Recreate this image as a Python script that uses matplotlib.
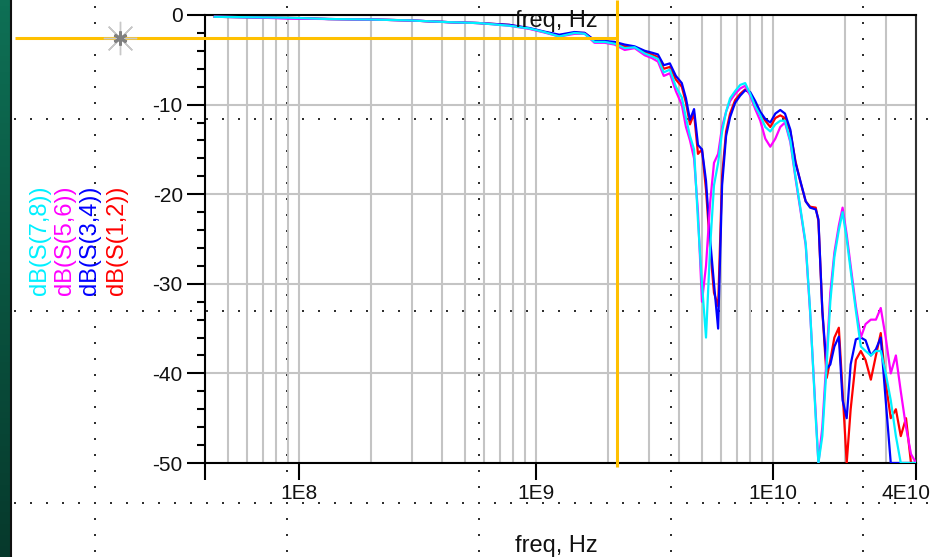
import numpy as np
import matplotlib
matplotlib.use("Agg")
import matplotlib.pyplot as plt
import matplotlib.transforms as mtransforms
from matplotlib.ticker import FixedLocator, LogLocator, MultipleLocator, NullFormatter
from matplotlib.colors import LinearSegmentedColormap

plt.rcParams['font.family'] = ['Liberation Sans', 'DejaVu Sans']

# ---------------- data ----------------
freq_ghz = [0.044, 0.061, 0.090, 0.133, 0.196, 0.290, 0.428, 0.573, 0.769, 0.934,
            1.08, 1.25, 1.45, 1.60, 1.76, 1.94, 2.14, 2.36, 2.60, 2.87,
            3.07, 3.26, 3.45, 3.66, 3.88, 4.11, 4.28, 4.45, 4.63, 4.81,
            5.00, 5.20, 5.41, 5.62, 5.85, 6.08, 6.32, 6.57, 6.90, 7.25,
            7.61, 7.99, 8.39, 8.81, 9.25, 9.71, 10.2, 10.7, 11.2, 11.8,
            12.4, 13.0, 13.7, 14.3, 15.1, 15.5, 16.1, 16.8, 17.4, 18.1,
            18.9, 19.6, 20.4, 21.2, 22.3, 23.4, 24.5, 25.8, 27.1, 28.4,
            29.8, 31.3, 32.9, 34.5, 36.3, 38.1, 40.0]

s12_db = [-0.2, -0.25, -0.3, -0.45, -0.5, -0.6, -0.8, -0.9, -1.1, -1.5,
          -1.9, -2.3, -2.0, -2.0, -2.9, -3.0, -3.1, -3.5, -3.6, -4.1,
          -4.4, -4.7, -6.0, -5.8, -7.2, -8.0, -9.8, -12.2, -11.0, -15.5,
          -15.0, -19.5, -26.0, -31.0, -32.5, -18.0, -13.0, -11.0, -9.5, -8.8,
          -8.3, -8.8, -10.0, -11.0, -11.8, -12.5, -11.5, -11.2, -11.5, -13.0,
          -16.3, -18.6, -20.8, -21.4, -21.5, -23.0, -33.0, -40.5, -38.5, -36.0,
          -34.9, -42.0, -50.0, -44.0, -38.5, -37.5, -38.5, -40.7, -38.0, -35.5,
          -41.0, -45.0, -44.0, -47.0, -45.0, -50.0, -50.0]

s34_db = [-0.2, -0.25, -0.35, -0.45, -0.5, -0.6, -0.8, -0.9, -1.1, -1.45,
          -1.85, -2.2, -1.9, -2.0, -2.8, -2.9, -3.0, -3.3, -3.5, -4.0,
          -4.2, -4.4, -5.6, -5.4, -6.8, -7.6, -9.3, -11.7, -10.5, -14.5,
          -15.0, -18.5, -25.0, -30.0, -35.0, -19.0, -13.5, -11.4, -9.8, -9.0,
          -8.4, -8.6, -9.6, -10.8, -11.6, -12.0, -11.0, -10.6, -11.0, -12.8,
          -16.5, -18.5, -20.8, -21.5, -21.7, -22.8, -33.0, -39.5, -39.0, -37.0,
          -35.9, -43.0, -45.0, -39.0, -36.2, -36.0, -36.3, -38.0, -37.3, -36.0,
          -43.0, -50.0, -50.0, -50.0, -50.0, -50.0, -50.0]

s56_db = [-0.2, -0.25, -0.4, -0.45, -0.5, -0.6, -0.8, -0.9, -1.2, -1.55,
          -1.95, -2.4, -2.1, -2.1, -3.1, -3.1, -3.3, -3.9, -3.7, -4.5,
          -4.8, -5.2, -6.8, -6.5, -8.5, -10.0, -12.5, -14.0, -16.0, -22.0,
          -32.0, -28.0, -21.0, -16.5, -15.5, -12.5, -10.8, -9.6, -8.8, -8.2,
          -7.9, -9.0, -10.5, -11.8, -13.8, -14.7, -13.8, -12.5, -12.0, -14.2,
          -18.2, -21.7, -25.7, -33.2, -44.5, -50.0, -46.0, -38.0, -31.0, -26.5,
          -23.5, -21.5, -24.5, -28.0, -32.5, -36.0, -34.5, -34.0, -34.0, -32.7,
          -36.0, -40.0, -38.0, -42.0, -46.0, -49.0, -50.0]

s78_db = [-0.2, -0.25, -0.3, -0.45, -0.5, -0.6, -0.8, -0.9, -1.2, -1.5,
          -1.9, -2.4, -2.0, -2.1, -3.0, -3.0, -3.2, -3.7, -3.6, -4.3,
          -4.6, -4.9, -6.4, -6.1, -8.0, -9.2, -11.5, -13.5, -15.0, -23.0,
          -30.0, -36.0, -26.0, -19.0, -16.5, -13.0, -10.8, -9.3, -8.5, -7.8,
          -7.6, -8.8, -10.2, -11.2, -12.5, -13.0, -12.2, -11.8, -11.8, -14.0,
          -18.0, -21.5, -25.5, -33.0, -45.0, -50.0, -47.0, -39.0, -32.0, -27.0,
          -24.0, -22.0, -25.0, -28.5, -33.0, -37.0, -37.5, -38.0, -37.5, -37.5,
          -40.0, -43.0, -47.0, -50.0, -50.0, -50.0, -50.0]

series_labels = ['dB(S(7,8))', 'dB(S(5,6))', 'dB(S(3,4))', 'dB(S(1,2))']
series_colors = ['#00f0ff', '#ff00ff', '#0000ff', '#ff0000']
x_ticks_hz = [4e7, 1e8, 1e9, 1e10, 4e10]
x_tick_labels = ['', '1E8', '1E9', '1E10', '4E10']
y_ticks = [0, -10, -20, -30, -40, -50]
x_label = 'freq, Hz'
marker_freq_hz = 2.2e9
marker_db = -2.57

# ---------------- figure ----------------
W, H = 934, 557
fig = plt.figure(figsize=(W / 100, H / 100), dpi=100)
fig.patch.set_facecolor('white')

bg = fig.add_axes([0, 0, 1, 1], zorder=0)
grad = np.linspace(0, 1, 100).reshape(-1, 1)
cmap = LinearSegmentedColormap.from_list('g', ['#0e7055', '#06392c'])
bg.imshow(grad, extent=[0, 10.5, H, 0], cmap=cmap, aspect='auto')
bg.plot([11, 11], [0, H], color='#101010', lw=1.5)
# page dotted grid
dx = np.arange(15, W, 16)
dy = np.arange(7, H, 16)
xs, ys = [], []
for yy in [119, 311, 503]:
    xs += list(dx); ys += [yy] * len(dx)
for xx in [95, 287, 479, 671, 863]:
    xs += [xx] * len(dy); ys += list(dy)
bg.scatter(xs, ys, s=2.4, c='#303030', marker='s', linewidths=0)
bg.set_xlim(0, W); bg.set_ylim(H, 0); bg.axis('off')

ax = fig.add_axes([205 / W, 1 - 463 / H, (916 - 205) / W, (463 - 15) / H], zorder=1)
ax.set_facecolor('none')
ax.set_xscale('log')
freq_hz = np.array(freq_ghz) * 1e9
for vals, col in [(s12_db, '#ff0000'), (s34_db, '#0000ff'),
                  (s56_db, '#ff00ff'), (s78_db, '#00f0ff')]:
    ax.plot(freq_hz, vals, color=col, lw=1.6, zorder=3)

ax.set_xlim(4e7, 4e10)
ax.set_ylim(-50, 0)
ax.xaxis.set_major_locator(FixedLocator(x_ticks_hz))
ax.set_xticklabels(x_tick_labels)
ax.xaxis.set_minor_locator(LogLocator(base=10, subs=range(2, 10)))
ax.xaxis.set_minor_formatter(NullFormatter())
ax.yaxis.set_major_locator(FixedLocator(y_ticks))
ax.set_yticklabels([str(v) for v in y_ticks])
ax.yaxis.set_minor_locator(MultipleLocator(2))
ax.set_axisbelow(True)
ax.grid(True, which='both', axis='x', color='#c4c4c4', lw=1.5)
ax.grid(True, which='major', axis='y', color='#c4c4c4', lw=1.5)
for s in ['left', 'bottom', 'top']:
    ax.spines[s].set_color('black'); ax.spines[s].set_linewidth(1.5)
ax.spines['right'].set_color('#303030'); ax.spines['right'].set_linewidth(1.5)
ax.tick_params(axis='y', which='major', length=13, width=1.5, pad=3,
               labelsize=15, labelcolor='#111111')
ax.tick_params(axis='y', which='minor', length=6, width=1.5)
ax.tick_params(axis='x', which='major', length=12.2, width=1.5, pad=3,
               labelsize=15, labelcolor='#111111')
ax.tick_params(axis='x', which='minor', length=0)

# keep the last x tick label inside the canvas
last = ax.get_xticklabels()[-1]
last.set_transform(last.get_transform() +
                   mtransforms.ScaledTranslation(-10 / 100, 0, fig.dpi_scale_trans))

fg = fig.add_axes([0, 0, 1, 1], zorder=3)
fg.set_xlim(0, W); fg.set_ylim(H, 0); fg.axis('off')
fig.canvas.draw()
mx, my = ax.transData.transform((marker_freq_hz, marker_db))
my = H - my
fg.plot([15, mx], [my, my], color='#ffc000', lw=2.2, solid_capstyle='butt')
fg.plot([mx, mx], [0, 467], color='#ffc000', lw=2.2, solid_capstyle='butt')
fg.plot([120], [my], marker=(8, 2, 0), ms=24, mew=1.0, color='#c8c8c8')
fg.plot([120], [my], marker=(6, 2, 0), ms=10, mew=2.0, color='#808080')

fg.text(556, 27, x_label, ha='center', va='baseline', fontsize=17, color='#111111')
fg.text(556, 552, x_label, ha='center', va='baseline', fontsize=17, color='#111111')
for xpos, lab, col in zip([40, 65, 90, 117], series_labels, series_colors):
    fg.text(xpos, 240, lab, rotation=90, ha='center', va='center',
            fontsize=17, color=col)

fig.savefig('out.png', dpi=100)
